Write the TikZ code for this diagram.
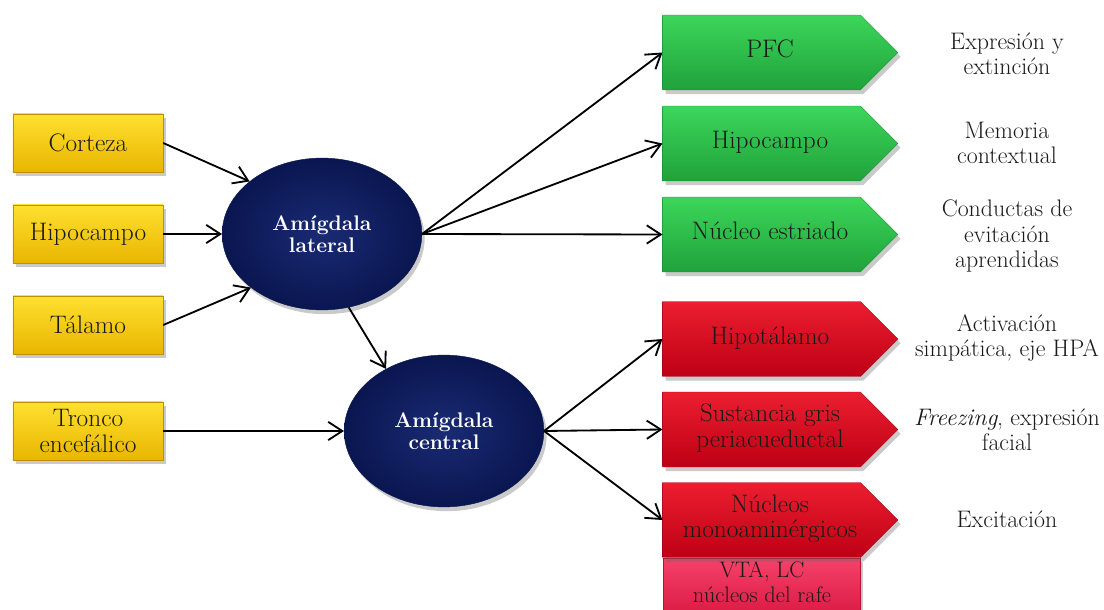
\documentclass[tikz,border=0pt]{standalone}
\usetikzlibrary{arrows.meta,shapes.geometric,shapes.symbols,shadows}

\definecolor{ytop}{HTML}{FFE030}
\definecolor{ybot}{HTML}{E8B600}
\definecolor{gtop}{HTML}{3CD65A}
\definecolor{gbot}{HTML}{20A23B}
\definecolor{rtop}{HTML}{EC1E30}
\definecolor{rbot}{HTML}{BE0014}
\definecolor{ptop}{HTML}{F5426A}
\definecolor{pbot}{HTML}{D8163F}
\definecolor{navyin}{HTML}{1A2B74}
\definecolor{navyout}{HTML}{0A1650}
\definecolor{ink}{HTML}{1A1A1A}

% text of the arrow-shaped boxes sits slightly right of the body centre
\newcommand\tagtext[1]{\hspace*{12pt}\begin{tabular}{@{}c@{}}#1\end{tabular}}

\tikzset{
  x=0.025cm, y=-0.025cm,
  bigtxt/.style={font=\fontsize{18}{18}\selectfont, text=ink},
  shade/.style={drop shadow={shadow xshift=2pt, shadow yshift=-3pt, opacity=0.35, fill=black!60}},
  srcbox/.style={bigtxt, align=center, rectangle, minimum width=106.7pt, minimum height=41.3pt,
    top color=ytop, bottom color=ybot, draw=ybot!80!black, line width=0.3pt, shade},
  tagbox/.style={bigtxt, shape=signal, signal to=east, signal pointer angle=90,
    minimum width=167.2pt, minimum height=53.3pt, inner sep=0pt, line width=0.3pt, shade},
  greenbox/.style={tagbox, top color=gtop, bottom color=gbot, draw=gbot!85!black},
  redbox/.style={tagbox, top color=rtop, bottom color=rbot, draw=rbot!85!black},
  subbox/.style={rectangle, minimum width=140pt, minimum height=45pt,
    top color=ptop, bottom color=pbot, draw=pbot!85!black, line width=0.3pt, shade},
  subtxt/.style={font=\fontsize{16}{17.5}\selectfont, text=ink, align=center},
  amyg/.style={ellipse, minimum width=142pt, minimum height=108pt, inner sep=0pt,
    inner color=navyin, outer color=navyout, draw=navyout, line width=0.3pt,
    text=white, font=\fontsize{15}{16}\selectfont\bfseries, align=center, shade},
  note/.style={font=\fontsize{17}{17.8}\selectfont, text=ink, align=center},
  conn/.style={line width=1.3pt, -{Straight Barb[length=10pt,width=13pt,line width=1.3pt]}},
}

\begin{document}
\begin{tikzpicture}
\useasboundingbox (0,0) rectangle (1104,610);
\clip (0,0) rectangle (1104,610);

% inputs
\node[srcbox] (cor) at (88,143) {Corteza};
\node[srcbox] (hip) at (88,234) {Hipocampo};
\node[srcbox] (tal) at (88,325) {Tálamo};
\node[srcbox] (tro) at (88,431) {Tronco\\encefálico};

% amygdala nuclei
\node[amyg] (lat) at (322,234) {Amígdala\\lateral};
\node[amyg] (cen) at (444,431) {Amígdala\\central};

% targets of the lateral nucleus
\node[greenbox] (pfc) at (761.5,52.5) {\tagtext{PFC}};
\node[greenbox] (hpc) at (761.5,143.5) {\tagtext{Hipocampo}};
\node[greenbox] (est) at (761.5,234.5) {\tagtext{Núcleo estriado}};

% targets of the central nucleus
\node[subbox, anchor=north west] (vta) at (663,558) {};
\node[subtxt] (vtat) at (762,582) {VTA, LC\\núcleos del rafe};
\node[redbox] (hyp) at (761.5,339) {\tagtext{Hipotálamo}};
\node[redbox] (sgp) at (761.5,429.5) {\tagtext{Sustancia gris\\periacueductal}};
\node[redbox] (mon) at (761.5,520) {\tagtext{Núcleos\\monoaminérgicos}};

% functions
\node[note] (f1) at (1007,54) {Expresión y\\extinción};
\node[note] (f2) at (1007,143) {Memoria\\contextual};
\node[note] (f3) at (1007,236) {Conductas de\\evitación\\aprendidas};
\node[note] (f4) at (1007,338) {Activación\\simpática, eje HPA};
\node[note] (f5) at (1007,430) {\textit{Freezing}, expresión\\facial};
\node[note] (f6) at (1007,519) {Excitación};

% connections
\draw[conn] (cor.east) -- (lat.144);
\draw[conn] (hip.east) -- (lat.west);
\draw[conn] (tal.east) -- (lat.217);
\draw[conn] (lat.290) -- (cen.133);
\draw[conn] (tro.east) -- (tro.east -| cen.west);

\draw[conn] (lat.east) -- (pfc.west);
\draw[conn] (lat.east) -- (hpc.west);
\draw[conn] (lat.east) -- (est.west);

\draw[conn] (cen.east) -- (hyp.west);
\draw[conn] (cen.east) -- (sgp.west);
\draw[conn] (cen.east) -- (mon.west);
\end{tikzpicture}
\end{document}
